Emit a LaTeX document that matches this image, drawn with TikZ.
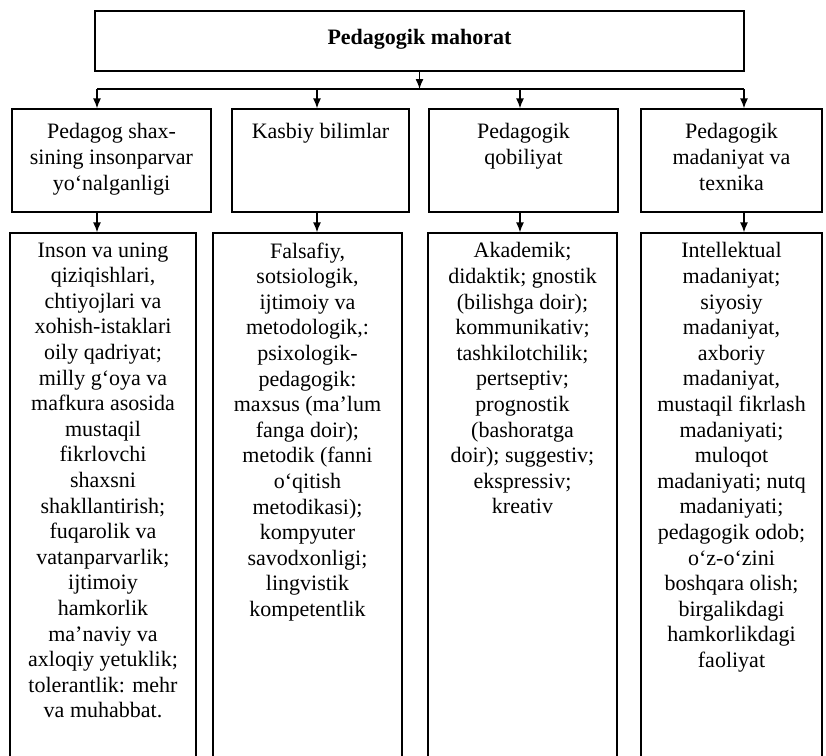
\documentclass[tikz,border=0pt]{standalone}
\usepackage{fontspec}
\setmainfont{Liberation Serif}
\usetikzlibrary{arrows.meta}
\begin{document}
\begin{tikzpicture}[x=1pt,y=-1pt,
  box/.style={draw=black, line width=1.3pt, rectangle, inner sep=0pt},
  txt/.style={align=center, inner sep=0pt, anchor=north, font=\fontsize{22}{25.6}\selectfont},
  arr/.style={line width=1.3pt, -{Latex[length=10pt,width=8pt]}},
  ln/.style={line width=1.3pt}]
\useasboundingbox (0,0) rectangle (826,755);
\clip (0,0) rectangle (826,755);

% top box
\node[box, minimum width=649pt, minimum height=60pt] (top) at (419.5,41) {};
\node[txt, font=\fontsize{22}{25.6}\selectfont\bfseries] (title) at ([yshift=-19pt]top.north) {Pedagogik mahorat};

% header boxes
\node[box, minimum width=199pt, minimum height=103pt] (h1) at (111.5,160.5) {};
\node[box, minimum width=177pt, minimum height=103pt] (h2) at (320.5,160.5) {};
\node[box, minimum width=189pt, minimum height=103pt] (h3) at (523.5,160.5) {};
\node[box, minimum width=181pt, minimum height=103pt] (h4) at (731.5,160.5) {};

\node[txt] (ht1) at ([yshift=-15pt]h1.north) {Pedagog shax-\\sining insonparvar\\yo‘nalganligi};
\node[txt] (ht2) at ([yshift=-15pt]h2.north) {Kasbiy bilimlar};
\node[txt] (ht3) at ([yshift=-15pt]h3.north) {Pedagogik\\qobiliyat};
\node[txt] (ht4) at ([yshift=-15pt]h4.north) {Pedagogik\\madaniyat va\\texnika};

% content boxes (open at the bottom, run past the page edge)
\node[box, minimum width=186pt, minimum height=537pt] (b1) at (103,501.5) {};
\node[box, minimum width=189pt, minimum height=537pt] (b2) at (307.5,501.5) {};
\node[box, minimum width=189pt, minimum height=537pt] (b3) at (522.5,501.5) {};
\node[box, minimum width=181pt, minimum height=537pt] (b4) at (731.5,501.5) {};

\node[txt] (bt1) at ([yshift=-10pt]b1.north) {Inson va uning\\qiziqishlari,\\chtiyojlari va\\xohish-istaklari\\oily qadriyat;\\milly g‘oya va\\mafkura asosida\\mustaqil\\fikrlovchi\\shaxsni\\shakllantirish;\\fuqarolik va\\vatanparvarlik;\\ijtimoiy\\hamkorlik\\ma’naviy va\\axloqiy yetuklik;\\tolerantlik: mehr\\va muhabbat.};
\node[txt] (bt2) at ([yshift=-10pt]b2.north) {Falsafiy,\\sotsiologik,\\ijtimoiy va\\metodologik,:\\psixologik-\\pedagogik:\\maxsus (ma’lum\\fanga doir);\\metodik (fanni\\o‘qitish\\metodikasi);\\kompyuter\\savodxonligi;\\lingvistik\\kompetentlik};
\node[txt] (bt3) at ([yshift=-10pt]b3.north) {Akademik;\\didaktik; gnostik\\(bilishga doir);\\kommunikativ;\\tashkilotchilik;\\pertseptiv;\\prognostik\\(bashoratga\\doir); suggestiv;\\ekspressiv;\\kreativ};
\node[txt] (bt4) at ([yshift=-10pt]b4.north) {Intellektual\\madaniyat;\\siyosiy\\madaniyat,\\axboriy\\madaniyat,\\mustaqil fikrlash\\madaniyati;\\muloqot\\madaniyati; nutq\\madaniyati;\\pedagogik odob;\\o‘z-o‘zini\\boshqara olish;\\birgalikdagi\\hamkorlikdagi\\faoliyat};

% connectors
\coordinate (k1) at (97,89);
\coordinate (k2) at (317,89);
\coordinate (k3) at (520,89);
\coordinate (k4) at (744,89);
\draw[arr] (top.south) -- (top.south |- k1);
\draw[ln] (k1) -- (k4);
\draw[arr] (k1) -- (k1 |- h1.north);
\draw[arr] (k2) -- (k2 |- h2.north);
\draw[arr] (k3) -- (k3 |- h3.north);
\draw[arr] (k4) -- (k4 |- h4.north);
\draw[arr] (h1.south -| k1) -- (b1.north -| k1);
\draw[arr] (h2.south -| k2) -- (b2.north -| k2);
\draw[arr] (h3.south -| k3) -- (b3.north -| k3);
\draw[arr] (h4.south -| k4) -- (b4.north -| k4);
\end{tikzpicture}
\end{document}
